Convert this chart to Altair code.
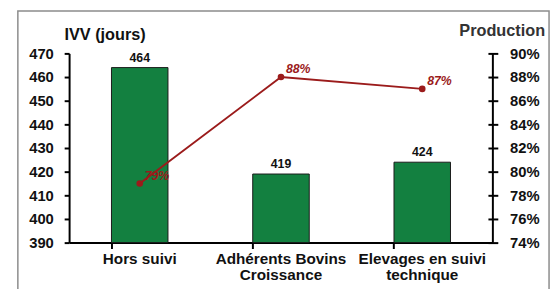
import altair as alt
import pandas as pd

categories = ["Hors suivi", "Adhérents Bovins|Croissance", "Elevages en suivi|technique"]
ivv = [464, 419, 424]
production = [0.79, 0.88, 0.87]
ivv_ticks = [390, 400, 410, 420, 430, 440, 450, 460, 470]
prod_ticks = [0.74, 0.76, 0.78, 0.80, 0.82, 0.84, 0.86, 0.88, 0.90]

df = pd.DataFrame({"cat": categories, "ivv": ivv, "prod": production})

FONT = "Liberation Sans"
GREEN = "#138040"
RED = "#9b1b1b"

xenc = alt.X(
    "cat:N", sort=categories,
    scale=alt.Scale(paddingInner=0.6, paddingOuter=0.3),
    axis=alt.Axis(
        title=None, bandPosition=0, labelAngle=0,
        labelExpr="split(datum.label, '|')", labelLineHeight=16,
        tickSize=6, labelPadding=3, labelFontSize=15.5,
    ),
)

base = alt.Chart(df)

yl = alt.Y(
    "ivv:Q", scale=alt.Scale(domain=[390, 470], zero=False, nice=False),
    axis=alt.Axis(
        orient="left", values=ivv_ticks, title="IVV (jours)", titleAngle=0,
        titleX=36, titleY=-19, titleAlign="center", titleBaseline="middle",
        tickSize=5, labelPadding=11, grid=False,
    ),
)

bars = base.mark_bar(color=GREEN, stroke="#1a1a1a", strokeWidth=1).encode(
    x=xenc, y=yl, y2=alt.datum(390)
)
bar_text = base.mark_text(
    font=FONT, fontWeight="bold", fontSize=12.5, dy=-10, color="#111"
).encode(x=xenc, y=yl, text=alt.Text("ivv:Q"))

yr = alt.Y(
    "prod:Q", scale=alt.Scale(domain=[0.74, 0.90], zero=False, nice=False),
    axis=alt.Axis(
        orient="right", values=prod_ticks, format=".0%", title="Production",
        titleAngle=0, titleX=14, titleY=-23, titleAlign="center",
        titleBaseline="middle", titleColor="#333", tickSize=10, offset=-5,
        domain=False, labelPadding=12, grid=False,
    ),
)

line = base.mark_line(
    color=RED, strokeWidth=2,
    point=alt.OverlayMarkDef(filled=True, size=45, color=RED),
).encode(x=xenc, y=yr)
line_text = base.mark_text(
    font=FONT, fontWeight="bold", fontStyle="italic", fontSize=12.5,
    color=RED, align="left", dx=5, dy=-8,
).encode(x=xenc, y=yr, text=alt.Text("prod:Q", format=".0%"))

one = alt.Chart(pd.DataFrame({"a": [0]}))
frame = one.mark_rect(fill=None, stroke="#8c8c8c", strokeWidth=1.5).encode(
    x=alt.value(-52), x2=alt.value(487), y=alt.value(-43), y2=alt.value(262)
)
right_domain = one.mark_rule(color="black", strokeWidth=2).encode(
    x=alt.value(430), y=alt.value(0), y2=alt.value(192)
)

left = alt.layer(bars, bar_text)
right = alt.layer(line, line_text)

chart = alt.layer(frame, left, right, right_domain).resolve_scale(
    y="independent"
).properties(
    width=430, height=192,
    autosize=alt.AutoSizeParams(type="none"),
    padding={"left": 62, "top": 44, "right": 60, "bottom": 45},
).configure_view(stroke=None).configure_axis(
    domainColor="black", domainWidth=2, tickColor="black", tickWidth=2,
    labelFont=FONT, labelFontWeight="bold", labelFontSize=15, labelColor="#111",
    titleFont=FONT, titleFontWeight="bold", titleFontSize=16.5, titleColor="#111",
)

chart.save("out.html", embed_options={"renderer": "svg", "actions": False})
